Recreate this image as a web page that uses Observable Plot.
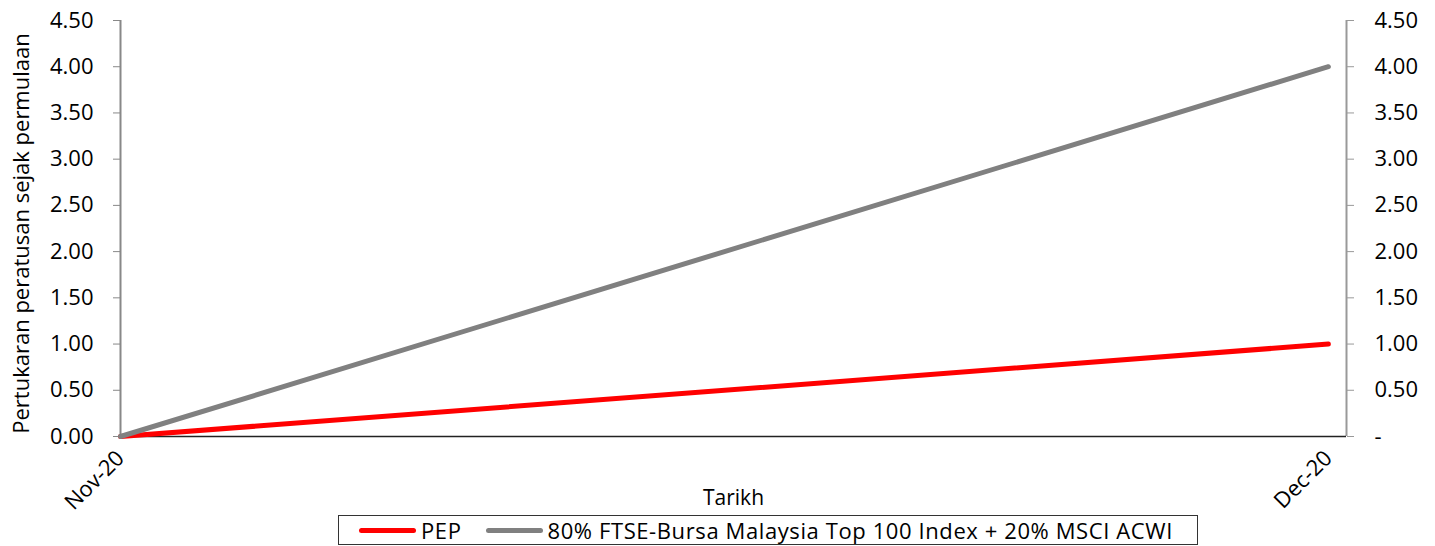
<!DOCTYPE html>
<html>
<head>
<meta charset="utf-8">
<script src="https://cdn.jsdelivr.net/npm/d3@7"></script>
<script src="https://cdn.jsdelivr.net/npm/@observablehq/plot@0.6"></script>
<style>
body{margin:0;background:#fff;font-family:"Open Sans",sans-serif;overflow:hidden;}
#chart{position:absolute;left:0;top:0;}
#legend{position:absolute;left:338px;top:515px;width:860px;height:30px;border:1px solid #333;box-sizing:border-box;display:flex;align-items:center;font-size:22px;letter-spacing:0.6px;color:#000;white-space:nowrap;background:#fff;}
.item{display:flex;align-items:center;}
.sw{display:inline-block;width:57px;height:5px;border-radius:3px;margin:0 5px 0 0;}
</style>
</head>
<body>
<div id="chart"></div>
<div id="legend"></div>
<script>
const categories = ["Nov-20", "Dec-20"];
const pepValues = [0.0, 1.0];
const benchValues = [0.0, 4.0];
const yTicks = [0, 0.5, 1, 1.5, 2, 2.5, 3, 3.5, 4, 4.5];
const seriesNames = ["PEP", "80% FTSE-Bursa Malaysia Top 100 Index + 20% MSCI ACWI"];
const seriesColors = ["#ff0000", "#808080"];

const rows = [];
categories.forEach((c, i) => {
  rows.push({i, cat: c, series: seriesNames[0], v: pepValues[i]});
  rows.push({i, cat: c, series: seriesNames[1], v: benchValues[i]});
});
const xMax = (categories.length - 1) * 1.015;

const chart = Plot.plot({
  width: 1435,
  height: 546,
  marginLeft: 120,
  marginRight: 89,
  marginTop: 20,
  marginBottom: 110,
  style: {fontFamily: "Open Sans, sans-serif", fontSize: "22px", color: "#000", background: "#fff"},
  x: {type: "linear", domain: [0, xMax]},
  y: {domain: [0, 4.5]},
  marks: [
    Plot.ruleX([0], {y1: 0, y2: 4.5, stroke: "#888", strokeWidth: 2}),
    Plot.ruleX([xMax], {y1: 0, y2: 4.5, stroke: "#999", strokeWidth: 2}),
    Plot.axisY({anchor: "left", ticks: yTicks, tickFormat: d3.format(".2f"), tickSize: 7, tickPadding: 20, stroke: "#888", label: null, fontSize: 22}),
    Plot.axisY({anchor: "right", ticks: yTicks, tickFormat: d => d === 0 ? "-" : d3.format(".2f")(d), tickSize: 7, tickPadding: 21, stroke: "#999", label: null, fontSize: 22}),
    Plot.text(["Pertukaran peratusan sejak permulaan"], {frameAnchor: "left", textAnchor: "middle", dx: -99, dy: 5, rotate: -90, fontSize: 22}),
    Plot.axisX({ticks: categories.map((c, i) => i), tickFormat: i => categories[i], tickSize: 0, tickRotate: -45, tickPadding: 18, label: null, fontSize: 22}),
    Plot.text(["Tarikh"], {frameAnchor: "bottom", dy: 68, fontSize: 21}),
    Plot.ruleY([0], {stroke: "#222", strokeWidth: 1.5}),
    Plot.line(rows, {x: "i", y: "v", z: "series", stroke: d => d.series, strokeWidth: 5, strokeLinecap: "round"})
  ],
  color: {domain: seriesNames, range: seriesColors}
});
document.getElementById("chart").appendChild(chart);

const lg = document.getElementById("legend");
seriesNames.forEach((n, k) => {
  const it = document.createElement("span");
  it.className = "item";
  it.style.marginLeft = k === 0 ? "20px" : "24px";
  it.innerHTML = `<span class="sw" style="background:${seriesColors[k]}"></span><span>${n}</span>`;
  lg.appendChild(it);
});
</script>
</body>
</html>
